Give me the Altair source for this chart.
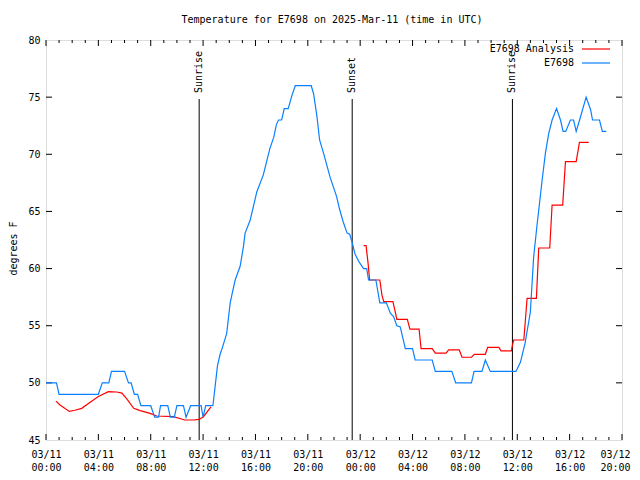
import altair as alt
import pandas as pd

# ---- data (hours since 2025-03-11 00:00 UTC, temperature in F) ----
blue_hours = [0.0, 0.8, 1.0, 4.0, 4.3, 4.8, 5.0, 6.0, 6.3, 6.5, 6.75, 7.0, 7.25, 8.0, 8.3, 8.6,
              8.75, 9.3, 9.5, 9.8, 10.0, 10.5, 10.7, 11.05, 11.85, 12.0, 12.2, 12.75, 12.9, 13.1,
              13.3, 13.45, 13.8, 14.07, 14.2, 14.45, 14.83, 15.08, 15.21, 15.6, 16.1, 16.6, 17.1,
              17.4, 17.6, 17.76, 18.0, 18.2, 18.5, 18.8, 19.04, 20.26, 20.44, 20.7, 20.9, 21.2,
              21.7, 22.2, 22.4, 22.7, 23.0, 23.2, 23.37, 23.6, 23.9, 24.26, 24.5, 24.64, 25.2,
              25.5, 26.0, 26.3, 26.55, 26.8, 27.06, 27.45, 28.0, 28.2, 29.5, 29.74, 31.0, 31.3,
              32.5, 32.7, 33.3, 33.56, 33.94, 35.9, 36.24, 36.6, 37.0, 37.25, 37.5, 37.9, 38.15,
              38.4, 38.66, 39.0, 39.3, 39.5, 39.7, 40.06, 40.3, 40.5, 40.8, 41.26, 41.6, 41.75,
              42.28, 42.5, 42.8]
blue_temps = [50, 50, 49, 49, 50, 50, 51, 51, 50, 50, 49, 49, 48, 48, 47, 47,
              48, 48, 47, 47, 48, 48, 47, 48, 48, 47, 48, 48, 49.5, 51.5,
              52.5, 53.0, 54.3, 57.0, 57.7, 59.0, 60.2, 61.9, 63.1, 64.25, 66.7, 68.2, 70.5,
              71.5, 72.6, 73.0, 73.0, 74.0, 74.0, 75.2, 76.0, 76.0, 75.3, 73.3, 71.25, 70.1,
              68.0, 66.3, 65.3, 64.1, 63.1, 63.0, 62.35, 61.3, 60.6, 60.0, 60.0, 59.0, 59.0,
              57.0, 57.0, 56.1, 55.8, 55.0, 54.9, 53.0, 53.0, 52.0, 52.0, 51.0, 51.0, 50.0,
              50.0, 51.0, 51.0, 52.0, 51.0, 51.0, 51.8, 53.5, 56.2, 61.0, 63.7, 67.75, 70.1,
              71.8, 73.0, 74.0, 73.0, 72.0, 72.0, 73.0, 73.0, 72.0, 73.15, 75.0, 73.9, 73.0,
              73.0, 72.0, 72.0]

red1_hours = [0.76, 1.07, 1.78, 2.2, 2.73, 3.24, 4.0, 4.76, 5.4, 5.8, 6.2, 6.7, 7.2, 7.95,
              8.46, 9.73, 10.6, 11.26, 11.7, 12.03, 12.6]
red1_temps = [48.4, 48.07, 47.5, 47.6, 47.77, 48.2, 48.8, 49.23, 49.2, 49.1, 48.56, 47.77, 47.57,
              47.33, 47.1, 47.04, 46.75, 46.75, 46.8, 47.04, 47.9]

red2_hours = [24.26, 24.45, 24.6, 24.72, 25.5, 25.66, 25.8, 26.5, 26.7, 26.8, 27.6, 27.8, 28.5,
              28.65, 29.5, 29.74, 30.56, 30.76, 31.57, 31.78, 32.5, 32.72, 33.56, 33.74, 34.6,
              34.76, 35.55, 35.63, 35.73, 36.5, 36.6, 36.75, 37.46, 37.64, 38.48, 38.66, 39.47,
              39.68, 40.5, 40.75, 41.46]
red2_temps = [62.0, 62.0, 60.5, 59.0, 59.0, 57.7, 57.1, 57.1, 56.1, 55.56, 55.56, 54.7, 54.7,
              53.0, 53.0, 52.6, 52.6, 52.88, 52.88, 52.24, 52.24, 52.5, 52.5, 53.1, 53.1,
              52.8, 52.8, 53.3, 53.75, 53.75, 55.2, 57.4, 57.4, 61.8, 61.8, 65.56, 65.56,
              69.35, 69.35, 71.05, 71.05]

sun_hours = [11.70, 23.39, 35.63]
sun_labels = ["Sunrise", "Sunset", "Sunrise"]

series_names = ["E7698 Analysis", "E7698"]
series_colors = ["#ff0000", "#0a80ff"]

x_major = list(range(0, 45, 4))
x_minor = [h for h in range(0, 45) if h % 4 != 0]
y_ticks = [50, 55, 60, 65, 70, 75]

title_text = "Temperature for E7698 on 2025-Mar-11 (time in UTC)"
FONT = "DejaVu Sans Mono"

# ---- build table ----
rows = []
for h, t in zip(red1_hours, red1_temps):
    rows.append({"hour": h, "temp": t, "series": series_names[0], "seg": "r1"})
for h, t in zip(red2_hours, red2_temps):
    rows.append({"hour": h, "temp": t, "series": series_names[0], "seg": "r2"})
for h, t in zip(blue_hours, blue_temps):
    rows.append({"hour": h, "temp": t, "series": series_names[1], "seg": "b"})
df = pd.DataFrame(rows)

W, H = 576, 400
xscale = alt.Scale(domain=[0, 44], nice=False, zero=False)
yscale = alt.Scale(domain=[45, 80], nice=False, zero=False)

label_expr = ("[datum.value < 24 ? '03/11' : '03/12', "
              "(datum.value % 24 < 10 ? '0' : '') + toString(datum.value % 24) + ':00']")

lines = alt.Chart(df).mark_line(strokeWidth=1.2, interpolate="linear").encode(
    x=alt.X("hour:Q", scale=xscale,
            axis=alt.Axis(values=x_major, labelExpr=label_expr, title=None, ticks=False,
                          tickSize=0, domain=False, grid=False, labelPadding=9,
                          labelLineHeight=13, labelFlush=False, labelOverlap=False,
                          labelFont=FONT, labelFontSize=10, labelColor="black",
                          labelOffset={"condition": {"test": "datum.value >= 44", "value": -7},
                                       "value": 0})),
    y=alt.Y("temp:Q", scale=yscale,
            axis=alt.Axis(values=[45, 50, 55, 60, 65, 70, 75, 80], title="degrees F",
                          ticks=False, tickSize=0, domain=False, grid=False, labelPadding=6,
                          labelFlush=False, labelOverlap=False, titleX=-33, titleY=208,
                          titleBaseline="middle", titleAngle=270, titleAlign="center",
                          titleFont=FONT, titleFontSize=10, titleFontWeight="normal",
                          titleColor="black",
                          labelFont=FONT, labelFontSize=10, labelColor="black")),
    color=alt.Color("series:N", scale=alt.Scale(domain=series_names, range=series_colors),
                    legend=None),
    detail="seg:N",
    order="hour:Q",
)

sun_df = pd.DataFrame({"hour": sun_hours, "label": sun_labels})
sun_rules = alt.Chart(sun_df).mark_rule(color="black", strokeWidth=1).encode(
    x=alt.X("hour:Q", scale=xscale), y=alt.value(59), y2=alt.value(400))
sun_text = alt.Chart(sun_df).mark_text(angle=270, align="left", baseline="middle",
                                       font=FONT, fontSize=10, color="black").encode(
    x=alt.X("hour:Q", scale=xscale), y=alt.value(53), text="label:N")

maj_df = pd.DataFrame({"hour": x_major})
min_df = pd.DataFrame({"hour": x_minor})
yt_df = pd.DataFrame({"temp": y_ticks})
tick_layers = [
    alt.Chart(maj_df).mark_rule(color="black").encode(
        x=alt.X("hour:Q", scale=xscale), y=alt.value(H), y2=alt.value(H - 6)),
    alt.Chart(maj_df).mark_rule(color="black").encode(
        x=alt.X("hour:Q", scale=xscale), y=alt.value(0), y2=alt.value(6)),
    alt.Chart(min_df).mark_rule(color="black").encode(
        x=alt.X("hour:Q", scale=xscale), y=alt.value(H), y2=alt.value(H - 3)),
    alt.Chart(min_df).mark_rule(color="black").encode(
        x=alt.X("hour:Q", scale=xscale), y=alt.value(0), y2=alt.value(3)),
    alt.Chart(yt_df).mark_rule(color="black").encode(
        y=alt.Y("temp:Q", scale=yscale), x=alt.value(0), x2=alt.value(6)),
    alt.Chart(yt_df).mark_rule(color="black").encode(
        y=alt.Y("temp:Q", scale=yscale), x=alt.value(W), x2=alt.value(W - 6)),
]

one = pd.DataFrame({"k": [0]})
title_mark = alt.Chart(one).mark_text(
    text=title_text, align="center", baseline="middle", font=FONT, fontSize=10, color="black"
).encode(x=alt.value(286), y=alt.value(-20))

legend_layers = []
for i, (name, col) in enumerate(zip(series_names, series_colors)):
    ly = 9 + 14 * i
    legend_layers.append(alt.Chart(one).mark_text(
        text=name, align="right", baseline="middle", font=FONT, fontSize=10, color="black"
    ).encode(x=alt.value(528), y=alt.value(ly)))
    legend_layers.append(alt.Chart(one).mark_rule(color=col, strokeWidth=1.2).encode(
        x=alt.value(536), x2=alt.value(564), y=alt.value(ly)))

chart = alt.layer(
    sun_rules, *tick_layers, lines, sun_text, title_mark, *legend_layers
).properties(
    width=W, height=H,
    autosize=alt.AutoSizeParams(type="none"),
    padding={"left": 38, "top": 32, "right": 10, "bottom": 40},
).configure_view(
    stroke="black", strokeWidth=1
).configure(background="white")

chart.save("out.html", embed_options={"renderer": "svg", "actions": False})
